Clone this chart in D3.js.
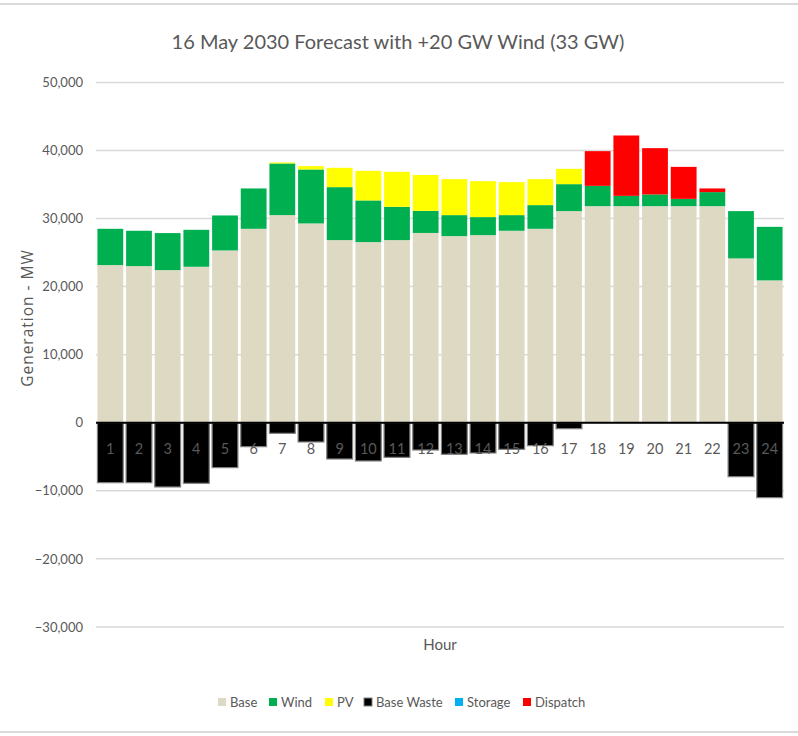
<!DOCTYPE html>
<html>
<head>
<meta charset="utf-8">
<script src="https://cdn.jsdelivr.net/npm/d3@7"></script>
<style>
body { margin: 0; background: #fff; }
text { font-family: Lato, "Open Sans", sans-serif; fill: #595959; }
</style>
</head>
<body>
<div id="chart"></div>
<script>
// values, MW per hour
var hours = [1,2,3,4,5,6,7,8,9,10,11,12,13,14,15,16,17,18,19,20,21,22,23,24];
var base = [23160,23010,22420,22910,25310,28490,30500,29280,26830,26540,26830,27880,
            27420,27560,28200,28490,31090,31820,31820,31820,31820,31820,24140,20910];
var wind = [5330,5190,5440,5430,5140,5930,7590,7930,7780,6120,4890,3250,
            3080,2650,2300,3480,3960,2980,1510,1720,1070,2060,6950,7870];
var pv = [0,0,0,0,0,0,150,490,2840,4340,5140,5270,
          5290,5280,4850,3820,2250,0,0,0,0,0,0,0];
var baseWaste = [-8810,-8810,-9440,-8900,-6600,-3520,-1560,-2830,-5330,-5620,-5090,-4010,
                 -4640,-4450,-3910,-3370,-880,0,0,0,0,0,-7930,-11010];
var storage = [0,0,0,0,0,0,0,0,0,0,0,0,0,0,0,0,0,0,0,0,0,0,0,0];
var dispatch = [0,0,0,0,0,0,0,0,0,0,0,0,0,0,0,0,0,5100,8870,6800,4700,540,0,0];
var yTicks = [-30000,-20000,-10000,0,10000,20000,30000,40000,50000];

var seriesNames = ["Base","Wind","PV","Base Waste","Storage","Dispatch"];
var colors = {"Base":"#ddd9c3","Wind":"#00b050","PV":"#ffff00","Base Waste":"#000000",
              "Storage":"#00b0f0","Dispatch":"#ff0000"};

var W = 798, H = 736;
var svg = d3.select("#chart").append("svg").attr("width", W).attr("height", H);

// outer frame
svg.append("rect").attr("x", -1).attr("y", 4).attr("width", W + 2).attr("height", H - 8)
	.attr("fill", "none").attr("stroke", "#d9d9d9").attr("stroke-width", 2);

var x = d3.scaleBand().domain(hours).range([96, 784]).paddingInner(0.1).paddingOuter(0.05);
var y = d3.scaleLinear().domain([-30000, 50000]).range([626.9, 82.4]);

// gridlines
svg.append("g").selectAll("line").data(yTicks).enter().append("line")
	.attr("x1", 96).attr("x2", 784)
	.attr("y1", function(d) { return y(d); }).attr("y2", function(d) { return y(d); })
	.attr("stroke", "#d9d9d9").attr("stroke-width", 1.5);

// y axis labels
var yAxis = d3.axisLeft(y).tickValues(yTicks).tickSize(0).tickPadding(0)
	.tickFormat(d3.format(","));
var ya = svg.append("g").attr("transform", "translate(83,0)").call(yAxis);
ya.select(".domain").remove();
ya.selectAll("text").style("font-size", "13px").style("fill", "#595959")
	.style("font-family", "Lato, sans-serif");

var rows = hours.map(function(h, i) {
	return {hour: h, Base: base[i], Wind: wind[i], PV: pv[i], Storage: storage[i], Dispatch: dispatch[i], waste: baseWaste[i]};
});
var stack = d3.stack().keys(["Base","Wind","PV","Storage","Dispatch"]);
var layers = stack(rows);

svg.append("g").selectAll("g").data(layers).enter().append("g")
	.attr("fill", function(d) { return colors[d.key]; })
	.selectAll("rect").data(function(d) { return d; }).enter().append("rect")
	.attr("x", function(d) { return x(d.data.hour); })
	.attr("width", x.bandwidth())
	.attr("y", function(d) { return y(d[1]); })
	.attr("height", function(d) { return Math.max(0, y(d[0]) - y(d[1])); });

// base waste below zero
svg.append("g").selectAll("rect").data(rows.filter(function(d) { return d.waste < 0; }))
	.enter().append("rect")
	.attr("x", function(d) { return x(d.hour); })
	.attr("width", x.bandwidth())
	.attr("y", y(0))
	.attr("height", function(d) { return y(d.waste) - y(0); })
	.attr("fill", "#000").attr("stroke", "#808080").attr("stroke-width", 1.2);

// zero line
svg.append("line").attr("x1", 96).attr("x2", 784).attr("y1", y(0)).attr("y2", y(0))
	.attr("stroke", "#000").attr("stroke-width", 2);

// hour labels
svg.append("g").selectAll("text").data(hours).enter().append("text")
	.attr("x", function(d) { return x(d) + x.bandwidth() / 2; })
	.attr("y", 454)
	.attr("text-anchor", "middle")
	.style("font-size", "14.5px")
	.text(function(d) { return d; });

// titles
svg.append("text").attr("x", 398).attr("y", 49).attr("text-anchor", "middle")
	.style("font-size", "20px")
	.text("16 May 2030 Forecast with +20 GW Wind (33 GW)");

svg.append("text").attr("transform", "translate(33,318) rotate(-90)")
	.attr("text-anchor", "middle")
	.style("font-family", "'Open Sans', sans-serif").style("font-size", "15.5px")
	.style("letter-spacing", "1px")
	.text("Generation - MW");

svg.append("text").attr("x", 440).attr("y", 650).attr("text-anchor", "middle")
	.style("font-size", "15px").text("Hour");

// legend
var legendX = [218, 269, 325, 364, 455, 523];
var lg = svg.append("g").selectAll("g").data(seriesNames).enter().append("g")
	.attr("transform", function(d, i) { return "translate(" + legendX[i] + ",702)"; });
lg.append("rect").attr("x", 0).attr("y", -4).attr("width", 8).attr("height", 8)
	.attr("fill", function(d) { return colors[d]; })
	.attr("stroke", function(d) { return d == "Base Waste" ? "#808080" : "none"; });
lg.append("text").attr("x", 12).attr("y", 5).style("font-size", "13px")
	.text(function(d) { return d; });
</script>
</body>
</html>
